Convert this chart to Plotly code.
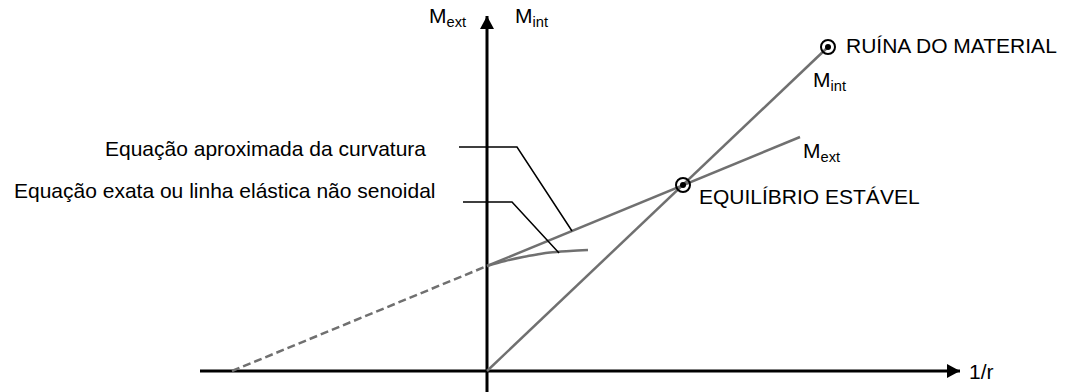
import plotly.graph_objects as go

# ---- data (chart units: 1/r on x, moment M on y) ----
mext_dash_x = [-2.55, 0.0]
mext_dash_y = [0.0, 1.05]
mext_x = [0.0, 3.13]
mext_y = [1.05, 2.34]
mint_x = [0.0, 3.41]
mint_y = [0.0, 3.24]
exact_x = [0.0, 0.18, 0.36, 0.50, 0.63, 0.83, 1.01]
exact_y = [1.05, 1.10, 1.14, 1.165, 1.185, 1.20, 1.21]
equil_x = [1.96]
equil_y = [1.86]
ruin_x = [3.41]
ruin_y = [3.24]
leader_approx_x = [-0.28, 0.30, 0.85]
leader_approx_y = [2.24, 2.24, 1.40]
leader_exact_x = [-0.24, 0.25, 0.72]
leader_exact_y = [1.69, 1.69, 1.18]
xaxis_x = [-2.87, 4.73]
yaxis_y = [-0.3, 3.55]

FONT = "Liberation Sans, Arial, sans-serif"
GRAY = "#707070"
FS = 21

fig = go.Figure()

# axes
fig.add_trace(go.Scatter(x=xaxis_x, y=[0, 0], mode="lines",
                         line=dict(color="black", width=3), hoverinfo="skip"))
fig.add_trace(go.Scatter(x=[0, 0], y=yaxis_y, mode="lines",
                         line=dict(color="black", width=3), hoverinfo="skip"))

# M_ext (dashed extension + solid)
fig.add_trace(go.Scatter(x=mext_dash_x, y=mext_dash_y, mode="lines",
                         line=dict(color=GRAY, width=2.5, dash="8px,4px")))
fig.add_trace(go.Scatter(x=mext_x, y=mext_y, mode="lines",
                         line=dict(color=GRAY, width=2.5)))
# M_int
fig.add_trace(go.Scatter(x=mint_x, y=mint_y, mode="lines",
                         line=dict(color=GRAY, width=2.5)))
# exact curve
fig.add_trace(go.Scatter(x=exact_x, y=exact_y, mode="lines",
                         line=dict(color=GRAY, width=2.5, shape="spline")))
# leaders
fig.add_trace(go.Scatter(x=leader_approx_x, y=leader_approx_y, mode="lines",
                         line=dict(color="black", width=1.5)))
fig.add_trace(go.Scatter(x=leader_exact_x, y=leader_exact_y, mode="lines",
                         line=dict(color="black", width=1.5)))

# points
for px, py in ((equil_x, equil_y), (ruin_x, ruin_y)):
    fig.add_trace(go.Scatter(x=px, y=py, mode="markers",
                             marker=dict(symbol="circle-open", size=14, color="black",
                                         line=dict(color="black", width=2))))
    fig.add_trace(go.Scatter(x=px, y=py, mode="markers",
                             marker=dict(symbol="circle", size=6, color="black",
                                         line=dict(width=0))))

# arrowheads (pixel-sized shapes anchored at axis tips)
fig.add_shape(type="path", xref="x", yref="y", xsizemode="pixel", ysizemode="pixel",
              xanchor=0, yanchor=yaxis_y[1], path="M -7,-13 L 7,-13 L 0,0 Z",
              fillcolor="black", line=dict(width=0))
fig.add_shape(type="path", xref="x", yref="y", xsizemode="pixel", ysizemode="pixel",
              xanchor=xaxis_x[1], yanchor=0, path="M -13,-7 L -13,7 L 0,0 Z",
              fillcolor="black", line=dict(width=0))

def label(text, x, y, xanchor="left", yanchor="middle"):
    fig.add_annotation(x=x, y=y, xref="x", yref="y", text=text, showarrow=False,
                       xanchor=xanchor, yanchor=yanchor,
                       font=dict(family=FONT, size=FS, color="black"))

label("Equação aproximada da curvatura", -0.59, 2.23, xanchor="right")
label("Equação exata ou linha elástica não senoidal", -0.50, 1.81, xanchor="right")
label("M<sub>ext</sub>", -0.60, 3.54)
label("M<sub>int</sub>", 0.26, 3.54)
label("1/r", 4.80, 0.0)
label("RUÍNA DO MATERIAL", 3.57, 3.26)
label("M<sub>int</sub>", 3.24, 2.90)
label("M<sub>ext</sub>", 3.14, 2.19)
label("EQUILÍBRIO ESTÁVEL", 2.10, 1.75)

fig.update_layout(
    width=1070, height=392,
    margin=dict(l=0, r=0, t=0, b=0),
    paper_bgcolor="white", plot_bgcolor="white",
    showlegend=False,
    xaxis=dict(range=[-4.87, 5.83], visible=False, fixedrange=True),
    yaxis=dict(range=[-0.21, 3.71], visible=False, fixedrange=True),
)

fig.write_html("out.html", config={"displayModeBar": False},
               post_script="document.body.style.margin='0px';")
